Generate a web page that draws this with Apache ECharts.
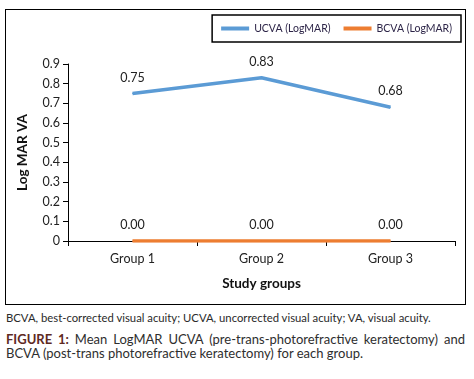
<!DOCTYPE html>
<html>
<head>
<meta charset="utf-8">
<script src="https://cdn.jsdelivr.net/npm/echarts@6/dist/echarts.min.js"></script>
<style>
  body { margin: 0; background: #fff; font-family: Lato, 'Open Sans', sans-serif; }
  #page { position: relative; width: 474px; height: 379px; overflow: hidden; }
  #box { position: absolute; left: 5px; top: 9px; width: 459px; height: 294px; border: 1.5px solid #000; }
  #chart { width: 459px; height: 294px; }
  .note { position: absolute; left: 6px; top: 311px; font-size: 11.3px; color: #2a2a2a; white-space: nowrap; }
  .caption { position: absolute; left: 6px; top: 332px; width: 459px; font-size: 13px; line-height: 14px; color: #2e2e2e; text-align: justify; text-align-last: left; }
  .caption b { color: #5e2a1f; }
</style>
</head>
<body>
<div id="page">
  <div id="box"><div id="chart"></div></div>
  <div class="note">BCVA, best-corrected visual acuity; UCVA, uncorrected visual acuity; VA, visual acuity.</div>
  <div class="caption"><b>FIGURE 1:</b> Mean LogMAR UCVA (pre-trans-photorefractive keratectomy) and BCVA (post-trans photorefractive keratectomy) for each group.</div>
</div>
<script>
const groups = ['Group 1', 'Group 2', 'Group 3']
const ucva = [0.75, 0.83, 0.68]
const bcva = [0.00, 0.00, 0.00]

const chart = echarts.init(document.getElementById('chart'))

const lineSeries = (name, values, color) => ({
  name,
  type: 'line',
  data: values,
  symbol: 'circle',
  symbolSize: 1,
  lineStyle: { color, width: 3.5 },
  itemStyle: { color },
  label: {
    show: true,
    position: 'top',
    distance: 9,
    color: '#222',
    fontSize: 12.5,
    formatter: p => p.value.toFixed(2)
  }
})

chart.setOption({
  animation: false,
  textStyle: { fontFamily: 'Lato, sans-serif' },
  grid: { left: 62, right: 10, top: 54, bottom: 63 },
  legend: {
    right: 4,
    top: 5,
    padding: [8, 9, 8, 9],
    borderColor: '#000',
    borderWidth: 1.5,
    itemWidth: 28,
    itemHeight: 4,
    itemGap: 13,
    icon: 'rect',
    textStyle: { color: '#2c2447', fontSize: 10.5 },
    data: ['UCVA (LogMAR)', 'BCVA (LogMAR)']
  },
  xAxis: {
    type: 'category',
    data: groups,
    name: 'Study groups',
    nameLocation: 'middle',
    nameGap: 36,
    nameTextStyle: { fontWeight: 'bold', fontSize: 13.5, color: '#111' },
    axisLine: { lineStyle: { color: '#000', width: 1 } },
    axisTick: { show: true, interval: 0, length: 5, lineStyle: { color: '#000' } },
    axisLabel: { color: '#222', fontSize: 12.5, margin: 11 }
  },
  yAxis: {
    type: 'value',
    min: 0,
    max: 0.9,
    interval: 0.1,
    name: 'Log MAR VA',
    nameLocation: 'middle',
    nameGap: 38,
    nameTextStyle: { fontWeight: 'bold', fontSize: 13.5, color: '#111' },
    axisLine: { show: true, lineStyle: { color: '#000', width: 1 } },
    axisTick: { show: true, length: 5, lineStyle: { color: '#000' } },
    axisLabel: { color: '#222', fontSize: 12.5, margin: 8, formatter: v => v === 0 ? '0' : v.toFixed(1) },
    splitLine: { show: false }
  },
  series: [
    lineSeries('UCVA (LogMAR)', ucva, '#5b9bd5'),
    lineSeries('BCVA (LogMAR)', bcva, '#ed7d31')
  ]
})
</script>
</body>
</html>
